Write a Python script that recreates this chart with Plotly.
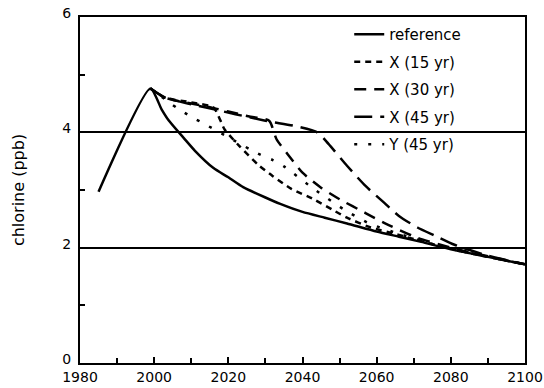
import plotly.graph_objects as go

# ---- data ----
ref_years = [1985, 1999, 2002, 2004, 2008, 2011, 2016, 2020, 2024, 2030, 2034, 2040, 2046, 2052, 2060, 2066, 2072, 2080, 2090, 2100]
ref_vals  = [2.97, 4.76, 4.40, 4.20, 3.90, 3.68, 3.38, 3.22, 3.05, 2.87, 2.76, 2.62, 2.52, 2.42, 2.28, 2.19, 2.10, 1.97, 1.84, 1.71]

x15_years = [1999, 2003, 2010, 2016, 2019, 2023, 2028, 2032, 2037, 2043, 2048, 2052, 2058, 2066, 2074, 2082, 2090, 2100]
x15_vals  = [4.76, 4.60, 4.52, 4.43, 4.05, 3.76, 3.44, 3.24, 3.02, 2.84, 2.66, 2.52, 2.36, 2.22, 2.08, 1.95, 1.84, 1.71]

x30_years = [1999, 2003, 2014, 2020, 2026, 2031, 2033, 2036, 2040, 2045, 2050, 2057, 2062, 2071, 2080, 2090, 2100]
x30_vals  = [4.76, 4.60, 4.45, 4.36, 4.27, 4.20, 3.88, 3.62, 3.30, 3.04, 2.84, 2.60, 2.43, 2.17, 2.00, 1.85, 1.71]

x45_years = [1999, 2003, 2014, 2030, 2038, 2044, 2047, 2052, 2057, 2062, 2066, 2071, 2076, 2081, 2090, 2100]
x45_vals  = [4.76, 4.60, 4.43, 4.20, 4.11, 4.00, 3.80, 3.42, 3.07, 2.78, 2.55, 2.35, 2.20, 2.05, 1.86, 1.71]

y45_years = [1999, 2006, 2010, 2014, 2021, 2028, 2032, 2035, 2043, 2051, 2058, 2066, 2074, 2082, 2090, 2100]
y45_vals  = [4.76, 4.43, 4.27, 4.13, 3.88, 3.63, 3.52, 3.41, 3.02, 2.67, 2.42, 2.24, 2.08, 1.95, 1.84, 1.71]

series = [
    ("reference", ref_years, ref_vals, "solid"),
    ("X (15 yr)", x15_years, x15_vals, "6px,5px"),
    ("X (30 yr)", x30_years, x30_vals, "12px,8px"),
    ("X (45 yr)", x45_years, x45_vals, "18px,8px"),
    ("Y (45 yr)", y45_years, y45_vals, "3px,11px"),
]

fig = go.Figure()
for name, xs, ys, dash in series:
    fig.add_trace(go.Scatter(
        x=xs, y=ys, mode="lines", name=name, legendgroup=name,
        line=dict(color="black", width=2.5, dash=dash, shape="spline", smoothing=0.6),
    ))

font = "DejaVu Sans, Liberation Sans, Arial, sans-serif"
fig.update_layout(
    width=544, height=388,
    margin=dict(l=80, r=19, t=17, b=25),
    paper_bgcolor="white", plot_bgcolor="white",
    font=dict(family=font, size=15, color="black"),
    showlegend=True,
    legend=dict(x=0.605, y=0.997, xanchor="left", yanchor="top",
                bgcolor="rgba(255,255,255,0)", borderwidth=0,
                font=dict(size=15), tracegroupgap=5),
    xaxis=dict(range=[1980, 2100], tickvals=[1980, 2000, 2020, 2040, 2060, 2080, 2100],
               ticks="inside", ticklen=6, tickwidth=2, tickcolor="black",
               minor=dict(ticks="inside", dtick=10, tick0=1980, ticklen=5, tickwidth=2, tickcolor="black"),
               showline=True, linewidth=2, linecolor="black", mirror=True,
               showgrid=False, zeroline=False, tickfont=dict(size=14),
               automargin=False, ticklabelstandoff=0, ticklabeloverflow="allow"),
    yaxis=dict(range=[0, 6], tickvals=[0, 2, 4, 6],
               ticks="inside", ticklen=5, tickwidth=2, tickcolor="black",
               minor=dict(ticks="inside", dtick=1, tick0=0, ticklen=5, tickwidth=2, tickcolor="black"),
               showline=True, linewidth=2, linecolor="black", mirror=True,
               showgrid=True, gridcolor="black", gridwidth=1.5, zeroline=False,
               title=dict(text="chlorine (ppb)", font=dict(size=16), standoff=34),
               tickfont=dict(size=14), automargin=False, ticklabelstandoff=4,
               ticklabelshift=-4, ticklabeloverflow="allow"),
)

fig.write_html("out.html")
